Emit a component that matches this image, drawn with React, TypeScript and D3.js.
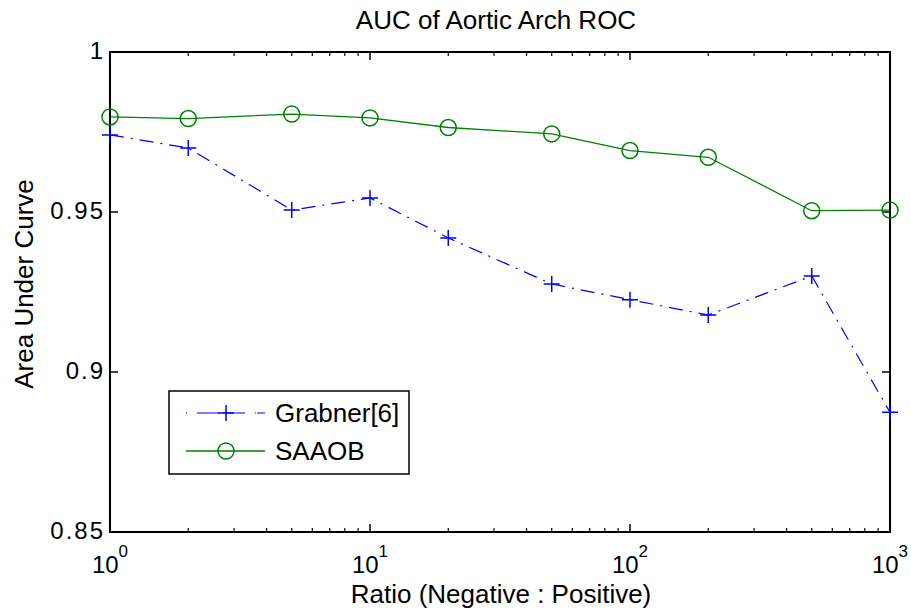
import React from 'react';
import * as d3 from 'd3';

const ratios = [1, 2, 5, 10, 20, 50, 100, 200, 500, 1000];
const grabner = [0.9741, 0.9700, 0.9506, 0.9544, 0.9419, 0.9275, 0.9226, 0.9178, 0.9300, 0.8874];
const saaob = [0.9797, 0.9792, 0.9806, 0.9794, 0.9764, 0.9744, 0.9692, 0.9671, 0.9504, 0.9506];
const yTicks = [0.85, 0.9, 0.95, 1];
const yTickLabels = ['0.85', '0.9', '0.95', '1'];
const xDecades = [0, 1, 2, 3];
const seriesNames = ['Grabner[6]', 'SAAOB'];

const W = 911, H = 614;
const margin = { left: 110, right: 21, top: 52, bottom: 82 };
const font = 'Liberation Sans, Arial, Helvetica, sans-serif';
const blue = '#0000ff', green = '#008000';

export default function App() {
  const x = d3.scaleLog().domain([1, 1000]).range([margin.left, W - margin.right]);
  const y = d3.scaleLinear().domain([0.85, 1]).range([H - margin.bottom, margin.top]);
  const x0 = x.range()[0], x1 = x.range()[1];
  const yb = y.range()[0], yt = y.range()[1];

  const line = d3.line<number>().x((_, i) => x(ratios[i])).y(d => y(d));
  // minor log ticks 2..9 per decade
  const minor: number[] = [];
  for (let p = 0; p < 3; p++) for (let m = 2; m <= 9; m++) minor.push(m * Math.pow(10, p));

  const majLen = 8, minLen = 4;
  const plus = (cx: number, cy: number) => `M${cx - 8},${cy}h16M${cx},${cy - 8}v16`;

  // legend
  const lg = { x: 169, y: 391, w: 240, h: 83 };
  const rowY = [413, 451];

  return (
    <svg width={W} height={H} style={{ position: 'absolute', left: 0, top: 0 }} fontFamily={font}>
      <rect width={W} height={H} fill="#fff" />
      <text x={(x0 + x1) / 2 - 4} y={29} textAnchor="middle" fontSize={26}>AUC of Aortic Arch ROC</text>

      <rect x={x0} y={yt} width={x1 - x0} height={yb - yt} fill="none" stroke="#000" strokeWidth={2} />

      {yTicks.map((t, i) => (
        <g key={'y' + i}>
          <line x1={x0} x2={x0 + majLen} y1={y(t)} y2={y(t)} stroke="#000" strokeWidth={1.5} />
          <line x1={x1} x2={x1 - majLen} y1={y(t)} y2={y(t)} stroke="#000" strokeWidth={1.5} />
          <text x={x0 - 5} y={y(t)} dy="0.3em" textAnchor="end" fontSize={24} letterSpacing={2}>{yTickLabels[i]}</text>
        </g>
      ))}

      {xDecades.map(d => {
        const v = Math.pow(10, d);
        return (
          <g key={'x' + d}>
            <line x1={x(v)} x2={x(v)} y1={yb} y2={yb - majLen} stroke="#000" strokeWidth={1.5} />
            <line x1={x(v)} x2={x(v)} y1={yt} y2={yt + majLen} stroke="#000" strokeWidth={1.5} />
            <text x={x(v)} y={yb + 41} textAnchor="middle" fontSize={24}>
              10<tspan dy={-16} fontSize={17}>{d}</tspan>
            </text>
          </g>
        );
      })}
      {minor.map((v, i) => (
        <g key={'m' + i}>
          <line x1={x(v)} x2={x(v)} y1={yb} y2={yb - minLen} stroke="#000" strokeWidth={1.2} />
          <line x1={x(v)} x2={x(v)} y1={yt} y2={yt + minLen} stroke="#000" strokeWidth={1.2} />
        </g>
      ))}

      <text x={(x0 + x1) / 2 + 1} y={603} textAnchor="middle" fontSize={26}>Ratio (Negative : Positive)</text>
      <text transform={`translate(33,284) rotate(-90)`} textAnchor="middle" fontSize={26}>Area Under Curve</text>

      <path d={line(grabner) || ''} fill="none" stroke={blue} strokeWidth={1.2} strokeDasharray="14 7 2 7" />
      {grabner.map((v, i) => (
        <path key={'g' + i} d={plus(x(ratios[i]), y(v))} stroke={blue} strokeWidth={1.5} />
      ))}
      <path d={line(saaob) || ''} fill="none" stroke={green} strokeWidth={1.3} />
      {saaob.map((v, i) => (
        <circle key={'s' + i} cx={x(ratios[i])} cy={y(v)} r={8} fill="none" stroke={green} strokeWidth={1.5} />
      ))}

      <rect x={lg.x} y={lg.y} width={lg.w} height={lg.h} fill="#fff" stroke="#000" strokeWidth={1.5} />
      <line x1={186} x2={265} y1={rowY[0]} y2={rowY[0]} stroke={blue} strokeWidth={1.2} strokeDasharray="1 10 22 4 22 10 1" />
      <path d={plus(226, rowY[0])} stroke={blue} strokeWidth={1.5} />
      <text x={275} y={rowY[0]} dy="0.35em" fontSize={26}>{seriesNames[0]}</text>
      <line x1={186} x2={265} y1={rowY[1]} y2={rowY[1]} stroke={green} strokeWidth={1.3} />
      <circle cx={226} cy={rowY[1]} r={8} fill="none" stroke={green} strokeWidth={1.5} />
      <text x={275} y={rowY[1]} dy="0.35em" fontSize={26}>{seriesNames[1]}</text>
    </svg>
  );
}
